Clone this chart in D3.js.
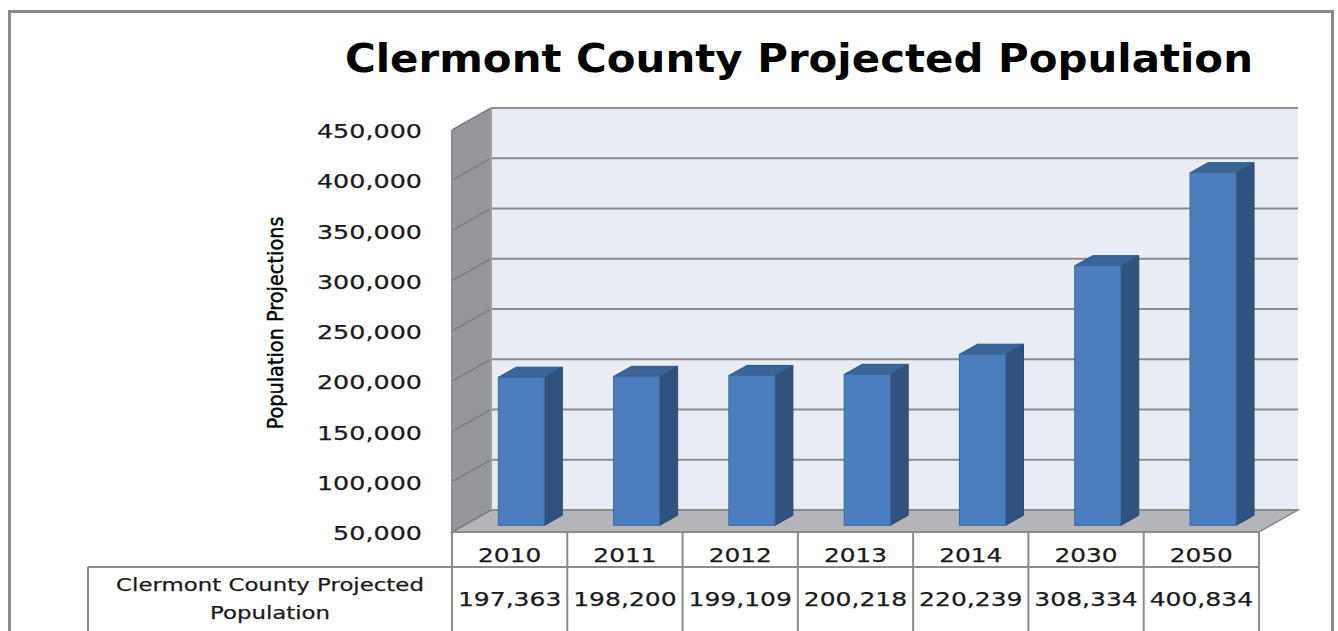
<!DOCTYPE html>
<html lang="en">
<head>
  <meta charset="UTF-8">
  <title>Clermont County Projected Population</title>
  <script src="https://d3js.org/d3.v7.min.js"></script>
  <style>
    body { margin: 0; background: #fff; }
    text { font-family: "DejaVu Sans", Verdana, sans-serif; fill: #1a1a1a; stroke: #1a1a1a; stroke-width: 0.25; }
    .title { font-weight: bold; fill: #000; stroke: none; }
    .ytitle { font-family: "DejaVu Sans Condensed", "DejaVu Sans", sans-serif; fill: #000; stroke: #000; stroke-width: 0.4; }
  </style>
</head>
<body>
  <div id="chart"></div>
  <script>
    const years = ["2010", "2011", "2012", "2013", "2014", "2030", "2050"];
    const population = [197363, 198200, 199109, 200218, 220239, 308334, 400834];
    const yTickValues = [50000, 100000, 150000, 200000, 250000, 300000, 350000, 400000, 450000];
    const chartTitle = "Clermont County Projected Population";
    const yTitle = "Population Projections";
    const rowLabel = ["Clermont County Projected", "Population"];

    const W = 1338, H = 631;
    const DX = 39, DY = -22;          // depth offset of the back wall
    const STRETCH = 1.27;             // text in the picture is drawn wide

    const svg = d3.select("#chart").append("svg")
      .attr("width", W).attr("height", H);

    const x = d3.scaleBand().domain(years).range([452, 1259]);
    const y = d3.scaleLinear().domain([50000, 450000]).range([532, 130]);

    const fmt = d3.format(",");
    const P = (px, v, d) => [px + d * DX, y(v) + d * DY];
    const pts = arr => arr.map(p => p.join(",")).join(" ");

    // stretch text horizontally like the picture
    function widen(sel, k) {
      sel.each(function() {
        const len = this.getComputedTextLength();
        d3.select(this).attr("textLength", len * k).attr("lengthAdjust", "spacingAndGlyphs");
      });
    }

    // outer frame
    svg.append("rect")
      .attr("x", 9.5).attr("y", 11.5).attr("width", 1323).attr("height", 640)
      .attr("fill", "none").attr("stroke", "#8a8a8a").attr("stroke-width", 3);

    const x0 = x.range()[0], x1 = x.range()[1];
    const vMin = y.domain()[0], vMax = y.domain()[1];

    // back wall
    svg.append("polygon")
      .attr("points", pts([P(x0, vMax, 1), P(x1, vMax, 1), P(x1, vMin, 1), P(x0, vMin, 1)]))
      .attr("fill", "#e8ecf5");

    // side wall
    svg.append("polygon")
      .attr("points", pts([P(x0, vMax, 0), P(x0, vMax, 1), P(x0, vMin, 1), P(x0, vMin, 0)]))
      .attr("fill", "#95979b");

    // floor
    svg.append("polygon")
      .attr("points", pts([P(x0, vMin, 0), P(x1, vMin, 0), P(x1, vMin, 1), P(x0, vMin, 1)]))
      .attr("fill", "#b3b5b9").attr("stroke", "#8c8c8c").attr("stroke-width", 1.5);

    // gridlines on back and side walls
    const grid = svg.append("g").attr("stroke", "#8c8c8c").attr("stroke-width", 2);
    yTickValues.forEach(v => {
      const a = P(x0, v, 1), b = P(x1, v, 1), c = P(x0, v, 0);
      grid.append("line").attr("x1", a[0]).attr("y1", a[1]).attr("x2", b[0]).attr("y2", b[1]);
      grid.append("line").attr("x1", c[0]).attr("y1", c[1]).attr("x2", a[0]).attr("y2", a[1])
        .attr("stroke", "#7d7f83").attr("stroke-width", 1.5);
    });
    grid.append("line")
      .attr("x1", P(x0, vMax, 1)[0]).attr("y1", P(x0, vMax, 1)[1])
      .attr("x2", P(x0, vMin, 1)[0]).attr("y2", P(x0, vMin, 1)[1])
      .attr("stroke", "#a0a0a0");
    grid.append("line")
      .attr("x1", x0).attr("y1", y(vMax)).attr("x2", x0).attr("y2", y(vMin))
      .attr("stroke", "#8c8c8c");

    // 3D bars
    const bw = x.bandwidth();
    const dFront = 0.3, dBack = 0.76;
    const bars = svg.append("g");
    years.forEach((yr, i) => {
      const v = population[i];
      const l = x(yr) + bw * 0.3, r = l + bw * 0.4;
      // side (right)
      bars.append("polygon")
        .attr("points", pts([P(r, v, dFront), P(r, v, dBack), P(r, vMin, dBack), P(r, vMin, dFront)]))
        .attr("fill", "#30527f").attr("stroke", "#2b4a73").attr("stroke-width", 1);
      // top
      bars.append("polygon")
        .attr("points", pts([P(l, v, dFront), P(r, v, dFront), P(r, v, dBack), P(l, v, dBack)]))
        .attr("fill", "#3b6498").attr("stroke", "#2f5583").attr("stroke-width", 1);
      // front
      const f0 = P(l, v, dFront), f1 = P(r, vMin, dFront);
      bars.append("rect")
        .attr("x", f0[0]).attr("y", f0[1])
        .attr("width", f1[0] - f0[0]).attr("height", f1[1] - f0[1])
        .attr("fill", "#4b7ebc").attr("stroke", "#3d6aa0").attr("stroke-width", 1);
    });

    // y tick labels
    svg.append("g").selectAll("text")
      .data(yTickValues).enter().append("text")
      .attr("x", 422).attr("y", d => y(d) + 8)
      .attr("text-anchor", "end").attr("font-size", 20)
      .text(d => fmt(d))
      .call(widen, STRETCH);

    // y title
    svg.append("text").attr("class", "ytitle")
      .attr("transform", "translate(283,323) rotate(-90)")
      .attr("text-anchor", "middle").attr("font-size", 22)
      .attr("textLength", 213).attr("lengthAdjust", "spacingAndGlyphs")
      .text(yTitle);

    // chart title
    svg.append("text").attr("class", "title")
      .attr("x", 799).attr("y", 72)
      .attr("text-anchor", "middle").attr("font-size", 39)
      .attr("textLength", 908).attr("lengthAdjust", "spacingAndGlyphs")
      .text(chartTitle);

    // data table
    const rowTop = 532, rowMid = 567, rowBot = 650, labelLeft = 88;
    const tbl = svg.append("g").attr("stroke", "#8c8c8c").attr("stroke-width", 2).attr("fill", "none");
    tbl.append("line").attr("x1", x0).attr("y1", rowTop).attr("x2", x1).attr("y2", rowTop);
    tbl.append("line").attr("x1", labelLeft).attr("y1", rowMid).attr("x2", x1).attr("y2", rowMid);
    tbl.append("line").attr("x1", labelLeft).attr("y1", rowMid).attr("x2", labelLeft).attr("y2", rowBot);
    years.forEach(yr => {
      tbl.append("line").attr("x1", x(yr)).attr("y1", rowTop).attr("x2", x(yr)).attr("y2", rowBot);
    });
    tbl.append("line").attr("x1", x1).attr("y1", rowTop).attr("x2", x1).attr("y2", rowBot);

    svg.append("g").selectAll("text")
      .data(years).enter().append("text")
      .attr("x", d => x(d) + bw / 2).attr("y", 562)
      .attr("text-anchor", "middle").attr("font-size", 20)
      .text(d => d)
      .call(widen, 1.24);

    svg.append("g").selectAll("text")
      .data(population).enter().append("text")
      .attr("x", (d, i) => x(years[i]) + bw / 2).attr("y", 606)
      .attr("text-anchor", "middle").attr("font-size", 20)
      .text(d => fmt(d))
      .call(widen, 1.25);

    svg.append("g").selectAll("text")
      .data(rowLabel).enter().append("text")
      .attr("x", (labelLeft + x0) / 2).attr("y", (d, i) => 591 + i * 28)
      .attr("text-anchor", "middle").attr("font-size", 18)
      .text(d => d)
      .call(widen, STRETCH);
  </script>
</body>
</html>
